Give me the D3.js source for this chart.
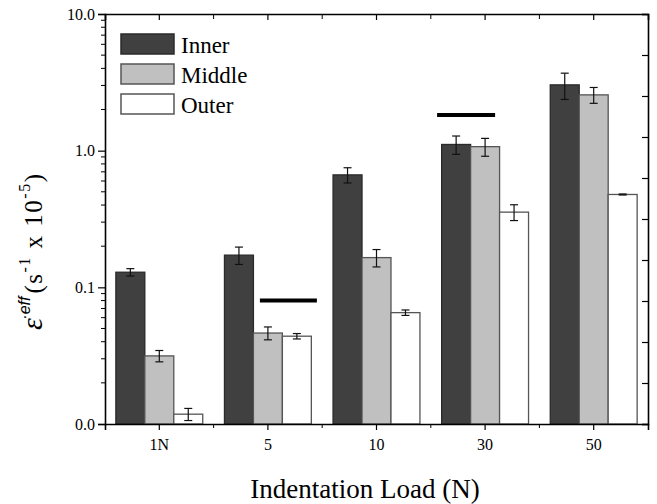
<!DOCTYPE html>
<html>
<head>
<meta charset="utf-8">
<script src="https://cdn.jsdelivr.net/npm/d3@7"></script>
<style>
  body { margin: 0; background: #fff; }
</style>
</head>
<body>
<script>
// loads on the x axis
const categories = ["1N", "5", "10", "30", "50"];
const seriesNames = ["Inner", "Middle", "Outer"];

// effective strain rate (s^-1 x 10^-5)
const inner = [0.129, 0.172, 0.665, 1.11, 3.03];
const innerErr = [0.008, 0.025, 0.085, 0.17, 0.66];
const middle = [0.0315, 0.0463, 0.165, 1.07, 2.56];
const middleErr = [0.003, 0.005, 0.024, 0.16, 0.34];
const outer = [0.0118, 0.0439, 0.0653, 0.355, 0.478];
const outerErr = [0.0012, 0.002, 0.003, 0.047, 0.004];

const yTicks = [0.01, 0.1, 1, 10];

// black significance bars
const markCats = ["5", "30"];
const markVals = [0.080, 1.82];

const serif = "'Liberation Serif', 'Times New Roman', serif";
const width = 657, height = 504;
const margin = {top: 14, right: 9, bottom: 80, left: 105};
const plotW = width - margin.left - margin.right;
const plotH = height - margin.top - margin.bottom;

const svg = d3.select("body").append("svg")
    .attr("width", width)
    .attr("height", height)
    .style("font-family", serif);

const g = svg.append("g")
    .attr("transform", "translate(" + margin.left + "," + margin.top + ")");

const x = d3.scaleBand().domain(categories).range([0, plotW]).padding(0);
const groupW = x.bandwidth() * 0.8;
const xs = d3.scaleBand().domain(seriesNames).range([-groupW / 2, groupW / 2]);
const y = d3.scaleLog().domain([0.01, 10]).range([plotH, 0]);

const fills = {Inner: "#404040", Middle: "#c0c0c0", Outer: "#ffffff"};
const strokes = {Inner: "#2a2a2a", Middle: "#555555", Outer: "#555555"};

const vals = {Inner: inner, Middle: middle, Outer: outer};
const errs = {Inner: innerErr, Middle: middleErr, Outer: outerErr};

let rows = [];
seriesNames.forEach(function(s) {
  categories.forEach(function(c, i) {
    rows.push({s: s, c: c, v: vals[s][i], e: errs[s][i]});
  });
});

// bars
g.selectAll("rect.bar")
  .data(rows)
  .enter()
  .append("rect")
  .attr("class", "bar")
  .attr("x", d => x(d.c) + x.bandwidth() / 2 + xs(d.s))
  .attr("y", d => y(d.v))
  .attr("width", xs.bandwidth())
  .attr("height", d => plotH - y(d.v))
  .attr("fill", d => fills[d.s])
  .attr("stroke", d => strokes[d.s])
  .attr("stroke-width", 1.3);

// error bars
const cap = 4;
const eb = g.selectAll("g.err")
  .data(rows)
  .enter()
  .append("g")
  .attr("class", "err")
  .attr("transform", d => "translate(" + (x(d.c) + x.bandwidth() / 2 + xs(d.s) + xs.bandwidth() / 2) + ",0)")
  .attr("stroke", "#111")
  .attr("stroke-width", 1.2);
eb.append("line").attr("y1", d => y(d.v + d.e)).attr("y2", d => y(d.v - d.e));
eb.append("line").attr("x1", -cap).attr("x2", cap).attr("y1", d => y(d.v + d.e)).attr("y2", d => y(d.v + d.e));
eb.append("line").attr("x1", -cap).attr("x2", cap).attr("y1", d => y(d.v - d.e)).attr("y2", d => y(d.v - d.e));

// significance bars
const markSpan = {"5": [-8, 49], "30": [-48, 10]};
g.selectAll("line.mark")
  .data(markCats)
  .enter()
  .append("line")
  .attr("class", "mark")
  .attr("x1", (d) => x(d) + x.bandwidth() / 2 + markSpan[d][0])
  .attr("x2", (d) => x(d) + x.bandwidth() / 2 + markSpan[d][1])
  .attr("y1", (d, i) => y(markVals[i]))
  .attr("y2", (d, i) => y(markVals[i]))
  .attr("stroke", "#000")
  .attr("stroke-width", 4);

// left axis with log minor ticks
const minor = [];
for (let p = -2; p < 1; p++) {
  for (let k = 2; k <= 9; k++) minor.push(k * Math.pow(10, p));
}
const yAxis = g.append("g")
  .call(d3.axisLeft(y).tickValues(yTicks).tickFormat(d3.format(".1f")).tickSize(7).tickPadding(3));
yAxis.append("g").selectAll("line")
  .data(minor).enter().append("line")
  .attr("x1", -4).attr("x2", 0)
  .attr("y1", d => y(d)).attr("y2", d => y(d))
  .attr("stroke", "#000");

// bottom axis: major at categories, minor at group edges
const edges = categories.slice(1).map(c => x(c));
const xAxis = g.append("g")
  .attr("transform", "translate(0," + plotH + ")")
  .call(d3.axisBottom(x).tickSize(6).tickPadding(9));
xAxis.append("g").selectAll("line")
  .data(edges).enter().append("line")
  .attr("x1", d => d).attr("x2", d => d)
  .attr("y1", 0).attr("y2", 4)
  .attr("stroke", "#000");

// top axis, ticks inward
const topAx = g.append("g")
  .call(d3.axisTop(x).tickSize(-6).tickFormat(""));
topAx.append("g").selectAll("line")
  .data(edges).enter().append("line")
  .attr("x1", d => d).attr("x2", d => d)
  .attr("y1", 0).attr("y2", 5)
  .attr("stroke", "#000");

// right axis, evenly spaced inward ticks
const yr = d3.scaleLinear().domain([0, 10]).range([plotH, 0]);
g.append("g")
  .attr("transform", "translate(" + plotW + ",0)")
  .call(d3.axisRight(yr).ticks(10).tickSize(-6).tickFormat(""));

g.selectAll("g").attr("font-family", serif);
g.selectAll(".domain").attr("stroke", "#000").attr("stroke-width", 1.6);
g.selectAll(".tick line").attr("stroke", "#000").attr("stroke-width", 1.2);
yAxis.selectAll(".tick text").style("font-size", "16px").style("font-family", serif);
xAxis.selectAll(".tick text").style("font-size", "16px").style("font-family", serif);

// legend
const leg = g.append("g").attr("transform", "translate(16,20)");
const li = leg.selectAll("g").data(seriesNames).enter().append("g")
  .attr("transform", (d, i) => "translate(0," + i * 30 + ")");
li.append("rect")
  .attr("width", 53).attr("height", 20)
  .attr("fill", d => fills[d])
  .attr("stroke", d => strokes[d])
  .attr("stroke-width", 1.5);
li.append("text")
  .attr("x", 60).attr("y", 19)
  .style("font-family", serif)
  .style("font-size", "23px")
  .text(d => d);

// axis titles
svg.append("text")
  .attr("x", 365).attr("y", 498)
  .attr("text-anchor", "middle")
  .style("font-family", serif)
  .style("font-size", "27px")
  .text("Indentation Load (N)");

const yl = svg.append("text")
  .attr("transform", "translate(42,330) rotate(-90)")
  .style("font-family", serif)
  .style("font-size", "25px")
  .style("letter-spacing", "1.5px");
yl.append("tspan").style("font-style", "italic").style("font-size", "30px").text("\u03b5");
yl.append("tspan").attr("dy", -12).attr("dx", -3)
  .style("font-family", "'Liberation Sans', Arial, sans-serif")
  .style("letter-spacing", "0px")
  .style("font-style", "italic").style("font-size", "16px").text("\u00b7eff");
yl.append("tspan").attr("dy", 12).attr("dx", 3).text("(s");
yl.append("tspan").attr("dy", -12).style("font-size", "16px").text("-1");
yl.append("tspan").attr("dy", 12).text(" x 10");
yl.append("tspan").attr("dy", -12).style("font-size", "16px").text("-5");
yl.append("tspan").attr("dy", 12).text(")");
</script>
</body>
</html>
